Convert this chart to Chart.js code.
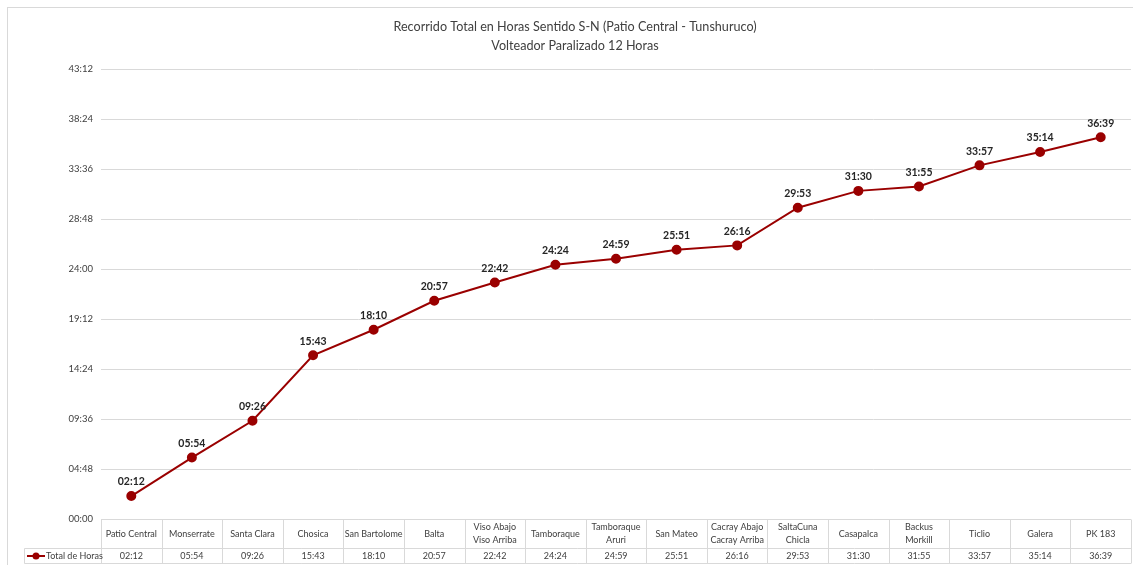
<!DOCTYPE html>
<html>
<head>
<meta charset="utf-8">
<script src="https://cdn.jsdelivr.net/npm/chart.js@4.4.1/dist/chart.umd.min.js"></script>
<style>
  html, body { margin: 0; padding: 0; background: #fff; }
  #wrap { width: 1133px; height: 565px; }
</style>
</head>
<body>
<div id="wrap"><canvas id="grafico" width="1133" height="565"></canvas></div>
<script>
// Estaciones del recorrido (el salto de línea parte la etiqueta en dos renglones)
var estaciones = ['Patio Central', 'Monserrate', 'Santa Clara', 'Chosica', 'San Bartolome', 'Balta',
    'Viso Abajo\nViso Arriba', 'Tamboraque', 'Tamboraque\nAruri', 'San Mateo', 'Cacray Abajo\nCacray Arriba',
    'SaltaCuna\nChicla', 'Casapalca', 'Backus\nMorkill', 'Ticlio', 'Galera', 'PK 183'];
// Total de horas acumuladas (hh:mm)
var totalHoras = ['02:12', '05:54', '09:26', '15:43', '18:10', '20:57', '22:42', '24:24', '24:59',
    '25:51', '26:16', '29:53', '31:30', '31:55', '33:57', '35:14', '36:39'];
// Marcas del eje Y (hh:mm)
var marcasEje = ['00:00', '04:48', '09:36', '14:24', '19:12', '24:00', '28:48', '33:36', '38:24', '43:12'];

var tituloLineas = ['Recorrido Total en Horas Sentido S-N (Patio Central - Tunshuruco)', 'Volteador Paralizado 12 Horas'];
var nombreSerie = 'Total de Horas';

var FUENTE = "Lato, 'Open Sans', sans-serif";
var ROJO = '#9a0000';
var GRIS = '#404040';
var LINEA = '#d9d9d9';

function aMinutos(txt) {
    var p = txt.split(':');
    return parseInt(p[0], 10) * 60 + parseInt(p[1], 10);
}
function aHoras(min) {
    var h = Math.floor(min / 60), m = Math.round(min % 60);
    return (h < 10 ? '0' : '') + h + ':' + (m < 10 ? '0' : '') + m;
}

var valores = totalHoras.map(aMinutos);
var minEje = aMinutos(marcasEje[0]);
var maxEje = aMinutos(marcasEje[marcasEje.length - 1]);
var pasoEje = aMinutos(marcasEje[1]) - minEje;

// Marco exterior y título
var marcoPlugin = {
    id: 'marco',
    beforeDraw: function(chart) {
        var c = chart.ctx;
        c.save();
        c.fillStyle = '#fff';
        c.fillRect(0, 0, chart.width, chart.height);
        c.strokeStyle = LINEA;
        c.lineWidth = 1;
        c.strokeRect(7.5, 7.5, chart.width + 10, chart.height + 10);
        c.fillStyle = GRIS;
        c.font = '12.6px ' + FUENTE;
        c.textAlign = 'center';
        c.textBaseline = 'middle';
        c.fillText(tituloLineas[0], 575, 27);
        c.fillText(tituloLineas[1], 575, 46);
        c.restore();
    }
};

// Etiquetas de valor sobre cada punto
var etiquetasPlugin = {
    id: 'etiquetas',
    afterDatasetsDraw: function(chart) {
        var c = chart.ctx;
        var meta = chart.getDatasetMeta(0);
        c.save();
        c.fillStyle = '#262626';
        c.font = 'bold 10.5px ' + FUENTE;
        c.textAlign = 'center';
        c.textBaseline = 'middle';
        meta.data.forEach(function(pt, i) {
            c.fillText(totalHoras[i], pt.x, pt.y - 14);
        });
        c.restore();
    }
};

// Tabla de datos bajo el gráfico (como en Excel)
var tablaPlugin = {
    id: 'tabla',
    afterDraw: function(chart) {
        var c = chart.ctx;
        var x = chart.scales.x;
        var area = chart.chartArea;
        var ancho = (area.right - area.left) / estaciones.length;
        var yTop = Math.round(area.bottom) + 0.5;
        var yMid = yTop + 29;
        var yBot = yMid + 15;
        var xLeyenda = 24.5;
        c.save();
        c.strokeStyle = LINEA;
        c.lineWidth = 1;
        c.beginPath();
        c.moveTo(area.left, yTop); c.lineTo(area.right, yTop);
        c.moveTo(xLeyenda, yMid); c.lineTo(area.right, yMid);
        c.moveTo(xLeyenda, yBot); c.lineTo(area.right, yBot);
        c.moveTo(xLeyenda, yMid); c.lineTo(xLeyenda, yBot);
        for (var i = 0; i <= estaciones.length; i++) {
            var xe = Math.round(area.left + i * ancho) + 0.5;
            c.moveTo(xe, yTop); c.lineTo(xe, yBot);
        }
        c.stroke();

        c.fillStyle = GRIS;
        c.font = '9px ' + FUENTE;
        c.textAlign = 'center';
        c.textBaseline = 'middle';
        estaciones.forEach(function(nombre, i) {
            var cx = x.getPixelForValue(i);
            var lineas = nombre.split('\n');
            var y0 = (yTop + yMid) / 2 - (lineas.length - 1) * 6.5;
            lineas.forEach(function(l, k) { c.fillText(l, cx, y0 + k * 13); });
            c.fillText(totalHoras[i], cx, (yMid + yBot) / 2 + 0.5);
        });

        // leyenda de la serie
        var yl = (yMid + yBot) / 2;
        c.strokeStyle = ROJO;
        c.lineWidth = 2;
        c.beginPath(); c.moveTo(27, yl); c.lineTo(45, yl); c.stroke();
        c.fillStyle = ROJO;
        c.beginPath(); c.arc(36, yl, 3.5, 0, Math.PI * 2); c.fill();
        c.fillStyle = GRIS;
        c.textAlign = 'left';
        c.fillText(nombreSerie, 46, yl + 0.5);
        c.restore();
    }
};

var ctx = document.getElementById('grafico').getContext('2d');
var grafico = new Chart(ctx, {
    type: 'line',
    data: {
        labels: estaciones,
        datasets: [{
            label: nombreSerie,
            data: valores,
            borderColor: ROJO,
            backgroundColor: ROJO,
            borderWidth: 2,
            pointRadius: 4,
            pointBackgroundColor: ROJO,
            pointBorderColor: ROJO,
            tension: 0,
            clip: false
        }]
    },
    options: {
        responsive: false,
        animation: false,
        devicePixelRatio: 1,
        layout: { autoPadding: false, padding: { top: 69, right: 2, bottom: 46, left: 0 } },
        plugins: {
            legend: { display: false },
            title: { display: false },
            tooltip: { enabled: false }
        },
        scales: {
            x: {
                type: 'category',
                display: false,
                offset: true
            },
            y: {
                min: minEje,
                max: maxEje,
                afterFit: function(scale) { scale.width = 101; },
                border: { display: false },
                grid: { color: LINEA, lineWidth: 1, drawTicks: false },
                ticks: {
                    stepSize: pasoEje,
                    padding: 8,
                    color: GRIS,
                    font: { family: FUENTE, size: 9.5 },
                    callback: function(v) { return aHoras(v); }
                }
            }
        }
    },
    plugins: [marcoPlugin, etiquetasPlugin, tablaPlugin]
});
</script>
</body>
</html>
